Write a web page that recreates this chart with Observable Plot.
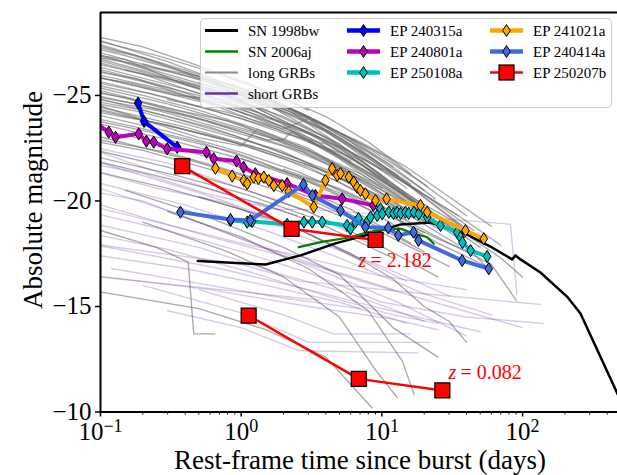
<!DOCTYPE html>
<html><head><meta charset="utf-8">
<script src="https://cdn.jsdelivr.net/npm/d3@7"></script>
<script src="https://cdn.jsdelivr.net/npm/@observablehq/plot@0.6"></script>
<style>
html,body{margin:0;padding:0;background:#fff;}
#chart{position:relative;width:617px;height:475px;overflow:hidden;}
#chart svg{font-family:"Liberation Serif","Times New Roman",serif;overflow:hidden;}
#chart svg text{font-family:"Liberation Serif","Times New Roman",serif;}
</style></head><body><div id="chart"></div>
<script>
// ---------- data (time in rest-frame days, absolute magnitude) ----------
const longGRBCurves = [
 "0.08:-27.8 0.3:-26.6 1:-25.3 3:-24.0 8:-22.3 20:-20.5",
 "0.08:-27.5 0.2:-26.8 0.6:-25.7 2:-24.4 6:-22.6 15:-20.8 40:-18.6",
 "0.08:-27.2 0.25:-26.3 0.5:-25.9 1.5:-24.6 4:-23.0 10:-21.2",
 "0.08:-27.0 0.15:-26.7 0.4:-25.5 1.2:-24.5 3:-23.2 7:-21.8 20:-19.8",
 "0.08:-26.8 0.3:-25.8 0.7:-25.2 2:-23.8 5:-22.5 12:-20.6 30:-19.0",
 "0.08:-26.6 0.2:-26.0 0.5:-25.1 1:-24.6 2.5:-23.3 6:-21.9",
 "0.08:-26.4 0.3:-25.4 1:-24.2 3:-22.9 9:-21.0 25:-19.2 50:-17.8",
 "0.08:-26.2 0.18:-25.8 0.4:-25.0 0.9:-24.5 2:-23.5 5:-22.0 10:-20.6",
 "0.08:-26.0 0.25:-25.2 0.6:-24.6 1.5:-23.6 4:-22.5 10:-21.0 30:-18.8",
 "0.08:-25.8 0.3:-24.9 1:-23.9 2:-23.2 4:-22.7 8:-21.5 18:-19.9",
 "0.08:-25.6 0.2:-25.0 0.5:-24.3 1.3:-23.4 3:-22.4 7:-21.0",
 "0.08:-25.4 0.35:-24.3 0.8:-23.8 2:-22.8 6:-21.4 15:-19.8 40:-18.0",
 "0.08:-25.2 0.15:-24.9 0.45:-24.0 1.1:-23.2 2.8:-22.3 7:-20.9 20:-19.1",
 "0.08:-25.0 0.3:-24.0 0.9:-23.1 2.5:-22.0 6:-20.8 14:-19.4",
 "0.08:-24.8 0.2:-24.3 0.6:-23.5 1.6:-22.5 4:-21.5 12:-19.8 35:-17.9",
 "0.08:-24.6 0.4:-23.5 1.2:-22.6 3:-21.7 8:-20.5 20:-18.9",
 "0.08:-24.4 0.25:-23.7 0.7:-23.0 2:-22.0 5:-20.9 15:-19.1",
 "0.08:-24.2 0.3:-23.3 1:-22.3 2.5:-21.4 7:-20.1 25:-18.0 60:-16.8",
 "0.08:-24.0 0.18:-23.5 0.5:-22.8 1.4:-21.8 4:-20.6 10:-19.3",
 "0.08:-23.8 0.35:-22.8 1:-22.0 3:-20.9 8:-19.6 20:-18.0",
 "0.08:-23.5 0.25:-22.8 0.8:-21.8 2.2:-20.8 6:-19.6 16:-18.0",
 "0.08:-23.2 0.4:-22.0 1.3:-21.0 3.5:-19.9 10:-18.5 30:-16.9",
 "0.08:-22.9 0.2:-22.4 0.6:-21.5 1.8:-20.5 5:-19.3",
 "0.08:-22.5 0.3:-21.6 1:-20.6 3:-19.5 9:-18.0 25:-16.4",
 "0.08:-22.0 0.5:-20.7 1.5:-19.8 4:-18.8 12:-17.3",
 "0.08:-21.5 0.3:-20.6 1:-19.6 2.5:-18.7 7:-17.2",
 "0.08:-15.8 0.5:-14.9 1.5:-13.9 4:-12.6 8.5:-10.2",
 "0.1:-18.6 0.25:-17.8 0.42:-17.1 0.46:-13.7 0.65:-13.7",
 "2:-21.5 5:-20.6 12:-19.4 30:-18.0 60:-17.0 90:-15.3",
 "1:-22.0 4:-20.8 10:-19.5 25:-18.2 45:-17.5 55:-16.9",
 "0.5:-20.2 2:-19.0 6:-17.5 12:-16.3 20:-15.0 30:-14.3 40:-13.3",
 "0.3:-19.5 1:-18.3 3:-16.8 8:-14.8 14:-12.4 17:-10.8",
 "0.2:-19.0 0.8:-17.6 2:-16.4 5:-14.5 9:-12.0 12.8:-10.7",
 "0.15:-20.5 0.6:-19.2 2:-17.8 5:-16.5 12:-14.0 25:-12.6",
 "0.1:-24.5 0.5:-23.0 1:-22.6 1.3:-23.4 3:-22.5 8:-20.8 20:-19.0",
 "0.3:-24.8 0.8:-24.2 2:-23.4 3:-23.9 6:-22.5 15:-20.6",
 "0.08:-27.6 0.4:-26.2 1.5:-24.9 5:-23.2 12:-21.6",
 "0.08:-27.3 0.13:-27.0 0.35:-26.2 1:-25.0 2.5:-24.0 6:-22.3 15:-20.3",
 "0.08:-26.9 0.22:-26.1 0.8:-24.9 2:-24.0 5:-22.7 11:-21.0",
 "0.08:-26.5 0.4:-25.3 1.2:-24.3 3.5:-23.0 9:-21.3 22:-19.5",
 "0.08:-26.1 0.28:-25.3 0.9:-24.3 2.2:-23.4 6:-21.8",
 "0.08:-25.9 0.16:-25.6 0.5:-24.8 1.4:-23.9 3.3:-22.9 8:-21.2 18:-19.6",
 "0.08:-25.5 0.3:-24.6 1:-23.6 2.8:-22.5 7:-21.3 16:-19.9",
 "0.08:-25.1 0.45:-24.0 1.6:-23.0 4.5:-21.7 11:-20.2",
 "0.08:-24.7 0.2:-24.2 0.7:-23.2 1.9:-22.4 5:-21.1 13:-19.6",
 "0.08:-24.3 0.3:-23.6 1.1:-22.6 3:-21.6 9:-20.0",
 "0.08:-23.9 0.25:-23.2 0.9:-22.3 3:-21.0 8:-19.8 20:-18.5",
 "0.08:-26.7 0.6:-25.2 1.7:-24.4 4:-23.3 9:-21.8 20:-20.3 45:-18.6",
 "0.08:-27.9 0.2:-27.3 0.5:-26.4 1.2:-25.5 3:-24.3",
 "1.5:-24.9 3:-24.0 6:-22.8 12:-21.3 25:-19.7 50:-18.2",
 "0.08:-27.4 0.17:-26.9 0.45:-26.0 1.1:-25.1 2.6:-24.2 5.5:-23.1 11:-21.8 24:-20.1",
 "0.08:-27.1 0.3:-26.0 0.9:-25.1 2.3:-24.2 5:-23.0 13:-21.2",
 "0.08:-26.9 0.14:-26.6 0.3:-25.9 0.8:-25.1 1.9:-24.3 4.2:-23.3 9:-21.9 19:-20.4",
 "0.08:-26.3 0.5:-25.0 1.3:-24.2 3.2:-23.2 7.5:-21.8 17:-20.1 35:-18.9",
 "0.08:-25.7 0.22:-25.1 0.7:-24.2 1.8:-23.4 4.5:-22.3 11:-20.8 26:-19.1",
 "0.08:-25.3 0.4:-24.2 1.2:-23.3 3.5:-22.2 9:-20.8 22:-19.3",
 "0.08:-24.9 0.25:-24.3 0.75:-23.4 2:-22.6 5.5:-21.4 14:-20.0 30:-18.7",
 "0.08:-24.5 0.5:-23.2 1.5:-22.4 4:-21.4 10:-20.2 25:-18.7",
 "0.08:-27.7 0.25:-26.9 0.7:-26.0 1.8:-25.0 4:-24.0 8:-22.8 16:-21.3",
 "0.08:-26.0 0.35:-25.0 0.5:-24.9 0.6:-25.3 1.5:-24.3 4:-23.0 10:-21.5",
 "0.08:-25.0 0.18:-24.6 0.55:-23.8 1.5:-22.9 2:-22.9 2.3:-23.3 5:-22.1 12:-20.6 28:-19.0",
 "0.2:-26.5 0.6:-25.6 1.5:-24.8 3.5:-23.8 8:-22.5 18:-21.0 40:-19.3",
 "0.5:-25.6 1.2:-24.9 3:-23.9 7:-22.8 15:-21.6 30:-20.2 60:-18.8",
 "0.9:-24.4 2.5:-23.5 6:-22.3 14:-20.9 35:-19.3 70:-17.9",
 "0.08:-23.0 0.3:-22.3 1:-21.3 3:-20.2 8:-19.0 20:-17.6",
 "0.08:-22.2 0.35:-21.2 1.1:-20.3 3.2:-19.2",
 "3:-22.8 6:-22.1 10:-21.0 20:-19.6 40:-18.4 70:-17.3 100:-16.4",
 "2:-23.6 4:-22.9 9:-21.7 18:-20.5 35:-19.3",
 "0.15:-26.2 0.4:-25.6 1:-24.8 1.4:-25.0 3:-23.9 7:-22.4 16:-20.8",
 "0.08:-27.0 0.5:-25.8 0.9:-25.5 2.1:-24.5 4.8:-23.3 10:-22.2 21:-20.7"
];
const shortGRBCurves = [
 "0.08:-22.6 0.3:-21.8 1:-20.6 3:-19.5 8:-18.0",
 "0.08:-22.0 0.5:-20.4 2:-19.0 6:-17.5 15:-16.2",
 "0.08:-21.5 0.25:-20.6 0.8:-19.9 3:-18.2 10:-16.9 30:-15.5",
 "0.08:-21.0 0.4:-19.8 1.5:-18.6 5:-17.3 20:-15.6 60:-14.6",
 "0.08:-20.5 0.2:-20.0 1:-18.2 4:-16.8 12:-15.8",
 "0.08:-20.0 0.6:-18.3 2:-17.4 8:-16.1 30:-15.0 100:-14.0",
 "0.08:-19.5 0.3:-18.6 1:-17.6 3:-16.6 10:-15.2 40:-14.5 140:-14.2",
 "0.08:-19.0 0.5:-17.8 2:-16.5 6:-15.6 20:-14.3",
 "0.08:-18.5 0.3:-17.7 1.2:-16.6 4:-15.5 12:-14.6 25:-14.2",
 "0.08:-18.0 0.7:-16.8 3:-15.8 10:-14.9 50:-13.8",
 "0.08:-17.5 0.4:-16.8 1.5:-16.0 5:-15.2 15:-14.2",
 "0.08:-18.0 1:-17.0 2.6:-16.2 20:-15.6 133:-15.1",
 "0.08:-16.5 0.6:-15.8 3:-15.0 12:-14.4 25:-13.9",
 "0.3:-14.8 1:-14.0 2.6:-12.9 18:-12.8",
 "0.5:-15.8 2:-14.6 4.5:-13.7 16:-13.7",
 "0.2:-16.0 1:-14.7 3:-13.3 22:-13.3",
 "0.08:-21.8 0.2:-21.3 0.6:-20.3 1.8:-19.6 3:-19.6 22:-19.2 82:-18.9 91:-15.6",
 "0.08:-16.5 0.1:-16.4 3.6:-15.3",
 "0.08:-20.8 0.35:-19.4 1.2:-18.0 4:-16.6 13:-15.2 40:-13.6",
 "0.1:-22.3 0.3:-21.2 0.9:-20.2 2.5:-19.3",
 "0.08:-19.8 0.25:-19.0 1:-18.0 2.2:-17.5 9:-16.5 40:-15.8",
 "0.12:-16.8 0.4:-16.2 2:-15.4 7:-14.9"
];
const sn1998bw_t   = [0.492, 1.49, 2.64, 4.68, 8.03, 13.6, 22.1, 40.4, 59.1, 84.4, 89.1, 96.7, 134, 207, 258, 368, 497];
const sn1998bw_mag = [-17.15, -16.99, -17.42, -17.99, -18.41, -18.89, -18.98, -18.41, -17.84, -17.23, -17.42, -17.23, -16.61, -15.47, -14.67, -12.44, -10.55];
const sn2006aj_t   = [2.57, 3.66, 5.99, 7.86, 10.9, 13.6, 16.9, 21.0, 23.4];
const sn2006aj_mag = [-17.81, -18.05, -18.28, -18.51, -18.68, -18.68, -18.46, -18.28, -17.97];
const ep240315a_t   = [0.185, 0.204, 0.351];
const ep240315a_mag = [-24.64, -23.77, -22.54];
const ep240801a_t   = [0.09, 0.1145, 0.128, 0.187, 0.212, 0.239, 0.298, 0.566, 0.638, 0.927, 1.04, 1.26, 2.12, 3.37, 5.22, 8.7];
const ep240801a_mag = [-23.75, -23.26, -23.02, -23.18, -22.83, -22.79, -22.47, -22.31, -22.0, -21.89, -21.6, -21.29, -20.82, -20.26, -20.10, -19.79];
const ep250108a_t   = [0.84, 1.103, 1.197, 2.12, 2.79, 3.2, 3.77, 5.66, 5.98, 6.49, 6.82, 7.86, 8.3, 9.26, 9.78, 10.05, 11.2, 12.1, 12.8, 13.6, 14.7, 15.5, 16.9, 18.3, 21.0, 26.1, 34.3, 36.2, 37.4, 42.7, 56.0];
const ep250108a_mag = [-19.08, -19.0, -19.03, -18.89, -19.0, -19.0, -19.0, -18.84, -18.68, -19.0, -19.17, -19.0, -19.23, -19.31, -19.63, -19.39, -19.47, -19.41, -19.47, -19.41, -19.47, -19.41, -19.47, -19.39, -19.23, -18.84, -18.51, -18.27, -18.03, -17.65, -17.37];
const ep241021a_t   = [0.656, 0.863, 1.043, 1.103, 1.229, 1.327, 1.448, 1.571, 1.706, 1.956, 2.18, 3.28, 3.97, 4.43, 4.81, 5.08, 5.82, 6.31, 6.67, 7.04, 7.64, 9.01, 10.8, 18.8, 21.0, 39.3, 53.0];
const ep241021a_mag = [-21.55, -21.18, -20.97, -20.82, -21.13, -21.07, -21.13, -20.97, -20.73, -20.73, -20.45, -19.71, -20.97, -21.53, -21.21, -21.30, -21.13, -20.89, -20.65, -20.50, -20.34, -20.02, -20.10, -19.79, -19.47, -18.60, -18.21];
const ep240414a_t   = [0.37, 0.84, 1.16, 2.77, 3.21, 5.08, 7.64, 11.1, 13.1, 16.8, 18.2, 37.2, 57.5];
const ep240414a_mag = [-19.47, -19.12, -19.08, -20.78, -20.26, -19.55, -18.76, -18.73, -18.37, -18.52, -18.13, -17.18, -16.79];
const ep250207b_hiz_t   = [0.381, 2.28, 9.02];
const ep250207b_hiz_mag = [-21.65, -18.68, -18.15];
const ep250207b_loz_t   = [1.13, 6.85, 26.9];
const ep250207b_loz_mag = [-14.57, -11.57, -11.02];
const annotations = [
  {t: 6.82, mag: -16.85, z: "2.182"},
  {t: 29.7, mag: -11.54, z: "0.082"}
];
const xMajorTicks = [0.1, 1, 10, 100];
const xTickLabels = ["10^−1", "10^0", "10^1", "10^2"];
const xMinorTicks = [0.2,0.3,0.4,0.5,0.6,0.7,0.8,0.9,2,3,4,5,6,7,8,9,20,30,40,50,60,70,80,90,200,300,400];
const yTicks = [-25, -20, -15, -10];

// ---------- build tables ----------
const parseCurves = (list, prefix) => list.flatMap((s, i) =>
  s.trim().split(/\s+/).map(p => { const [t, m] = p.split(":").map(Number); return {id: prefix + i, t, mag: m}; }));
const longRows = parseCurves(longGRBCurves, "L");
const shortRows = parseCurves(shortGRBCurves, "S");
const rows = (ts, ms) => ts.map((t, i) => ({t, mag: ms[i]}));

const thinDiamond = {draw(ctx, size) { const r = Math.sqrt(size / Math.PI); const w = r * 0.72, h = r * 1.15;
  ctx.moveTo(0, -h); ctx.lineTo(w, 0); ctx.lineTo(0, h); ctx.lineTo(-w, 0); ctx.closePath(); }};
const squareSym = {draw(ctx, size) { const r = Math.sqrt(size / Math.PI); ctx.rect(-r, -r, 2 * r, 2 * r); }};

const epSeries = [
  {name: "EP 240315a", color: "#0000ff", data: rows(ep240315a_t, ep240315a_mag)},
  {name: "EP 240801a", color: "#bf00bf", data: rows(ep240801a_t, ep240801a_mag)},
  {name: "EP 250108a", color: "#00bfbf", data: rows(ep250108a_t, ep250108a_mag)},
  {name: "EP 241021a", color: "#ffa500", data: rows(ep241021a_t, ep241021a_mag)},
  {name: "EP 240414a", color: "#4169e1", data: rows(ep240414a_t, ep240414a_mag)}
];
const redHi = rows(ep250207b_hiz_t, ep250207b_hiz_mag);
const redLo = rows(ep250207b_loz_t, ep250207b_loz_mag);

const epMarks = epSeries.flatMap(s => [
  Plot.line(s.data, {x: "t", y: "mag", stroke: s.color, strokeWidth: 4, clip: true}),
  Plot.dot(s.data, {x: "t", y: "mag", symbol: thinDiamond, r: 5.3, fill: s.color, stroke: "black", strokeWidth: 1, clip: true})
]);

const serif = "'Liberation Serif','Times New Roman',serif";
const yTop = -28.93;
const chart = Plot.plot({
  width: 617, height: 475,
  marginLeft: 100, marginRight: 0, marginTop: 12, marginBottom: 63.5,
  x: {type: "log", domain: [0.1, 500], range: [100, 620.4]},
  y: {type: "linear", domain: [-10, yTop], range: [411.5, 12]},
  style: {fontFamily: serif, background: "white"},
  marks: [
    Plot.line(longRows, {x: "t", y: "mag", z: "id", stroke: "#6a6a6a", strokeOpacity: 0.58, strokeWidth: 1.35, clip: true}),
    Plot.line(shortRows, {x: "t", y: "mag", z: "id", stroke: "#6a2fa8", strokeOpacity: 0.26, strokeWidth: 1.4, clip: true}),
    Plot.line(rows(sn1998bw_t, sn1998bw_mag), {x: "t", y: "mag", stroke: "black", strokeWidth: 2.5, clip: true}),
    Plot.line(rows(sn2006aj_t, sn2006aj_mag), {x: "t", y: "mag", stroke: "#008000", strokeWidth: 2.2, clip: true}),
    ...epMarks,
    Plot.line(redHi, {x: "t", y: "mag", stroke: "#ff0000", strokeWidth: 2.5, clip: true}),
    Plot.line(redLo, {x: "t", y: "mag", stroke: "#ff0000", strokeWidth: 2.5, clip: true}),
    Plot.dot(redHi.concat(redLo), {x: "t", y: "mag", symbol: squareSym, r: 7.5, fill: "#ff0000", stroke: "black", strokeWidth: 1.2}),
    Plot.text(annotations, {x: "t", y: "mag", text: () => "z", fontStyle: "italic", fontFamily: serif, fill: "#ff0000", fontSize: 20, textAnchor: "start", lineAnchor: "bottom"}),
    Plot.text(annotations, {x: "t", y: "mag", text: d => "= " + d.z, fontFamily: serif, fill: "#ff0000", fontSize: 20, textAnchor: "start", lineAnchor: "bottom", dx: 12}),
    Plot.ruleX([0.1], {stroke: "black", strokeWidth: 2}),
    Plot.ruleY([-10, yTop], {stroke: "black", strokeWidth: 2}),
    Plot.axisY(yTicks, {anchor: "left", tickSize: 5, tickPadding: 4, fontSize: 25, label: null, strokeWidth: 1.5, tickFormat: d => (d < 0 ? "\u2212" : "") + Math.abs(d)}),
    Plot.axisX(xMajorTicks, {anchor: "bottom", tickSize: 5, tickPadding: 5, fontSize: 25, label: null, strokeWidth: 1.5, tickFormat: d => xTickLabels[xMajorTicks.indexOf(d)]}),
    Plot.axisX(xMinorTicks, {anchor: "bottom", tickSize: 3, label: null, strokeWidth: 1, tickFormat: () => ""})
  ]
});
document.getElementById("chart").appendChild(chart);

const svg = d3.select(chart);
// superscripts for log tick labels
svg.selectAll("text").each(function() {
  const s = this.textContent;
  if (s && s.startsWith("10^")) {
    const exp = s.slice(3);
    const el = d3.select(this);
    el.text(null);
    el.append("tspan").text("10");
    el.append("tspan").attr("dy", "-0.45em").attr("font-size", "0.72em").text(exp);
  }
});

// axis titles
svg.append("text").attr("x", 360).attr("y", 469).attr("text-anchor", "middle").attr("font-family", serif)
  .attr("font-size", 27).attr("fill", "black").text("Rest-frame time since burst (days)");
svg.append("text").attr("transform", "translate(42,200) rotate(-90)").attr("text-anchor", "middle").attr("font-family", serif)
  .attr("font-size", 27).attr("fill", "black").text("Absolute magnitude");

// legend
const lg = svg.append("g").attr("font-size", 15).attr("font-family", serif).attr("text-anchor", "start");
lg.append("rect").attr("x", 200.5).attr("y", 18.5).attr("width", 411).attr("height", 89).attr("rx", 4)
  .attr("fill", "white").attr("fill-opacity", 0.8).attr("stroke", "#cccccc");
const legendItems = [
  {name: "SN 1998bw", color: "black", w: 3, col: 0, row: 0},
  {name: "SN 2006aj", color: "#008000", w: 2.5, col: 0, row: 1},
  {name: "long GRBs", color: "#8a8a8a", w: 2, col: 0, row: 2},
  {name: "short GRBs", color: "#6a2fa8", w: 2.5, col: 0, row: 3},
  {name: "EP 240315a", color: "#0000ff", w: 4.5, col: 1, row: 0, mk: "d"},
  {name: "EP 240801a", color: "#bf00bf", w: 4.5, col: 1, row: 1, mk: "d"},
  {name: "EP 250108a", color: "#00bfbf", w: 4.5, col: 1, row: 2, mk: "d"},
  {name: "EP 241021a", color: "#ffa500", w: 4.5, col: 2, row: 0, mk: "d"},
  {name: "EP 240414a", color: "#4169e1", w: 4.5, col: 2, row: 1, mk: "d"},
  {name: "EP 250207b", color: "#ff0000", w: 2.5, col: 2, row: 2, mk: "s"}
];
const colX = [205, 347, 490];
const rowY = [30.5, 51.5, 72.5, 93.5];
legendItems.forEach(it => {
  const x0 = colX[it.col], y0 = rowY[it.row];
  lg.append("line").attr("x1", x0).attr("x2", x0 + 33).attr("y1", y0).attr("y2", y0)
    .attr("stroke", it.color).attr("stroke-width", it.w);
  const cx = x0 + 16.5;
  if (it.mk === "d") {
    lg.append("path").attr("d", `M${cx},${y0-6}L${cx+3.8},${y0}L${cx},${y0+6}L${cx-3.8},${y0}Z`)
      .attr("fill", it.color).attr("stroke", "black").attr("stroke-width", 1);
  } else if (it.mk === "s") {
    lg.append("rect").attr("x", cx - 7.5).attr("y", y0 - 7.5).attr("width", 15).attr("height", 15)
      .attr("fill", it.color).attr("stroke", "black").attr("stroke-width", 1.2);
  }
  lg.append("text").attr("x", x0 + 43).attr("y", y0 + 5).attr("text-anchor", "start")
    .style("font-family", serif).attr("font-size", 15).attr("fill", "black").text(it.name);
});
</script></body></html>
